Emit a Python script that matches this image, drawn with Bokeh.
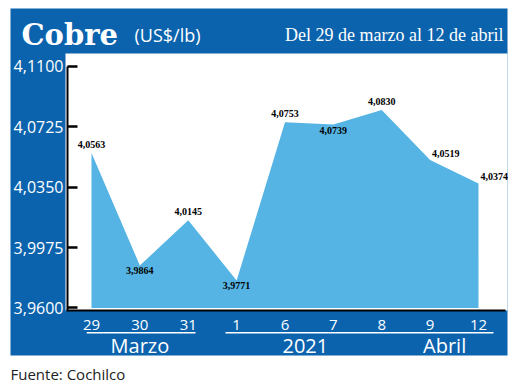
from bokeh.plotting import figure
from bokeh.models import Range1d, FixedTicker, Label, BoxAnnotation, ColumnDataSource, LinearAxis
from bokeh.embed import file_html
from bokeh.resources import INLINE
from bokeh.core.properties import value

# ---- data ----
days = ["29", "30", "31", "1", "6", "7", "8", "9", "12"]
prices = [4.0563, 3.9864, 4.0145, 3.9771, 4.0753, 4.0739, 4.0830, 4.0519, 4.0374]
y_ticks = [3.9600, 3.9975, 4.0350, 4.0725, 4.1100]
y_tick_labels = ["3,9600", "3,9975", "4,0350", "4,0725", "4,1100"]
months = ["Marzo", "2021", "Abril"]
title = "Cobre"
unit = "(US$/lb)"
subtitle = "Del 29 de marzo al 12 de abril"
source_note = "Fuente: Cochilco"

# label placement per point (layout, not data)
label_side = ["above", "below", "above", "below", "above", "below", "above", "right", "right"]

DARK = "#0b63ae"
LIGHT = "#55b4e3"

PAGE = 0
W, H = 510, 384
xs, xe = -1.8811, 8.6615
ys, ye = 3.91248, 4.15099


def X(px):
    return xs + (px - PAGE) / W * (xe - xs)


def Y(py):
    return ye - (py - PAGE) / H * (ye - ys)


idx = list(range(len(days)))

p = figure(width=W, height=H, x_range=Range1d(xs, xe), y_range=Range1d(ys, ye),
           output_backend="svg", toolbar_location=None, x_axis_type=None, y_axis_type=None,
           min_border=0)
p.border_fill_color = "white"
p.background_fill_color = "white"
p.outline_line_color = None
p.grid.visible = False

# blue frame and white plot panel
p.add_layout(BoxAnnotation(left=X(10), right=X(507), top=Y(8), bottom=Y(355),
                           fill_color=DARK, fill_alpha=1, line_color=None, level="underlay"))
p.add_layout(BoxAnnotation(left=X(65), right=X(507), top=Y(53), bottom=Y(310),
                           fill_color="white", fill_alpha=1, line_color=None, level="underlay"))

# area
p.varea(x=idx, y1=y_ticks[0], y2=prices, fill_color=LIGHT)

# y axis
ya = LinearAxis(fixed_location=X(67), bounds=(Y(310), y_ticks[-1]))
ya.ticker = FixedTicker(ticks=y_ticks)
ya.major_label_overrides = dict(zip(y_ticks, y_tick_labels))
ya.axis_line_color = "black"
ya.axis_line_width = 2
ya.major_tick_in = 10
ya.major_tick_out = 0
ya.major_tick_line_color = "black"
ya.major_tick_line_width = 2.5
ya.minor_tick_line_color = None
ya.major_label_text_font = "Open Sans"
ya.major_label_text_font_size = "16px"
ya.major_label_text_color = "white"
ya.major_label_standoff = 4
p.add_layout(ya, "left")

# x axis
xa = LinearAxis(fixed_location=Y(309.5), bounds=(X(66), X(505)))
xa.ticker = FixedTicker(ticks=idx)
xa.major_label_overrides = {i: d for i, d in zip(idx, days)}
xa.axis_line_color = "black"
xa.axis_line_width = 2
xa.major_tick_line_color = None
xa.minor_tick_line_color = None
xa.major_label_text_font = "Open Sans"
xa.major_label_text_font_size = "15px"
xa.major_label_text_color = "white"
xa.major_label_standoff = 4
p.add_layout(xa, "below")

# value labels
fmt = [f"{v:.4f}".replace(".", ",") for v in prices]
for side, align, base, xo, yo in [("above", "center", "bottom", 0, -5),
                                  ("below", "center", "top", 0, 2),
                                  ("right", "left", "bottom", 2, -3)]:
    sel = [i for i, s in enumerate(label_side) if s == side]
    src = ColumnDataSource(dict(x=[idx[i] for i in sel], y=[prices[i] for i in sel],
                                t=[fmt[i] for i in sel]))
    p.text(x="x", y="y", text="t", source=src, text_align=align, text_baseline=base,
           x_offset=xo, y_offset=yo, text_font=value("Liberation Serif"),
           text_font_style="bold", text_font_size="10px", text_color="black")

# title bar texts
p.add_layout(Label(x=X(21), y=Y(34), text=title, text_font="DejaVu Serif",
                   text_font_style="bold", text_font_size="29px", text_color="white",
                   text_baseline="alphabetic"))
p.add_layout(Label(x=X(134), y=Y(34), text=unit, text_font="Open Sans",
                   text_font_size="18px", text_color="white", text_baseline="alphabetic"))
p.add_layout(Label(x=X(503), y=Y(34), text=subtitle, text_font="Liberation Serif",
                   text_font_size="18px", text_color="white", text_align="right",
                   text_baseline="alphabetic"))

# group labels under the day labels
group_pos = [1.0, 4.42, 7.3]
for m, gx in zip(months, group_pos):
    p.add_layout(Label(x=gx, y=Y(345), text=m, text_font="Open Sans",
                       text_font_size="20px", text_color="white", text_align="center",
                       text_baseline="middle"))

# separator lines
for a, b in [(0 - 0.1, 2 + 0.15), (3 - 0.23, 8 + 0.31)]:
    p.add_layout(BoxAnnotation(left=a, right=b, top=Y(331.5), bottom=Y(333),
                               fill_color="white", fill_alpha=1, line_color=None))

# footer
p.add_layout(Label(x=X(10), y=Y(373), text=source_note, text_font="Open Sans",
                   text_font_size="15px", text_color="#222", text_baseline="middle"))

open("out.html", "w").write(file_html(p, INLINE))
